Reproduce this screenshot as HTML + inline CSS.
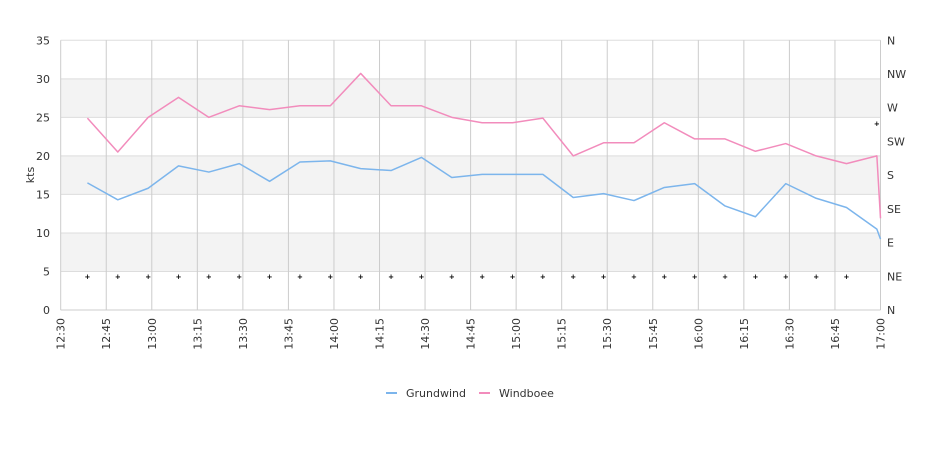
<!DOCTYPE html>
<html><head><meta charset="utf-8"><style>
body{margin:0;background:#fff;width:940px;height:450px;overflow:hidden}
svg{font-family:"DejaVu Sans","Liberation Sans",sans-serif}
</style></head><body>
<svg id="chart" width="940" height="450"></svg>
<script>
const xTicks=["12:30","12:45","13:00","13:15","13:30","13:45","14:00","14:15","14:30","14:45","15:00","15:15","15:30","15:45","16:00","16:15","16:30","16:45","17:00"];
const yTicks=[0,5,10,15,20,25,30,35];
const dirLabels=["N","NE","E","SE","S","SW","W","NW","N"];
const times=[8.8,18.8,28.8,38.8,48.8,58.8,68.8,78.8,88.8,98.8,108.8,118.8,128.8,138.8,148.8,158.8,168.8,178.8,188.8,198.8,208.8,218.8,228.8,238.8,248.8,258.8,268.8,270];
const grundwind=[16.5,14.3,15.8,18.7,17.9,19.0,16.7,19.2,19.35,18.35,18.1,19.8,17.2,17.6,17.6,17.6,14.6,15.1,14.2,15.9,16.4,13.5,12.1,16.4,14.5,13.3,10.5,9.2];
const windboee=[24.9,20.5,25.0,27.6,25.0,26.5,26.0,26.5,26.5,30.7,26.5,26.5,25.0,24.3,24.3,24.9,20.0,21.7,21.7,24.3,22.2,22.2,20.6,21.6,20.0,19.0,20.0,11.9];
const dirTimes=[8.8,18.8,28.8,38.8,48.8,58.8,68.8,78.8,88.8,98.8,108.8,118.8,128.8,138.8,148.8,158.8,168.8,178.8,188.8,198.8,208.8,218.8,228.8,238.8,248.8,258.8,268.8];
const directions=[45,45,45,45,45,45,45,45,45,45,45,45,45,45,45,45,45,45,45,45,45,45,45,45,45,45,249];

const L=60.7,R=880.5,T=40.3,B=310;
const x=m=>L+(R-L)*m/270;
const y=v=>B-(B-T)*v/35;
const yd=d=>y(d/360*35);
const svg=document.getElementById('chart');
const NS='http://www.w3.org/2000/svg';
function mk(tag,attrs,parent){const e=document.createElementNS(NS,tag);for(const k in attrs)e.setAttribute(k,attrs[k]);(parent||svg).appendChild(e);return e;}

// bands
[5,15,25].forEach(v=>{
  const r=mk('rect',{x:L,y:y(v+5),width:R-L,height:y(v)-y(v+5),fill:'#f3f3f3'});
  
  
});
// horizontal grid + left labels
yTicks.forEach(v=>{
  const l=mk('line',{x1:L,x2:R,y1:y(v),y2:y(v),stroke:'#dddddd','stroke-width':1});
  
  
  const t=mk('text',{x:50,y:y(v)+4,'text-anchor':'end','font-size':11,fill:'#333'});
  t.textContent=v;
  
  
});
// right direction labels
dirLabels.forEach((d,i)=>{
  const t=mk('text',{x:887,y:y(i*35/8)+4,'font-size':11,fill:'#333'});
  t.textContent=d;
  
  
});
// vertical grid + x labels
xTicks.forEach((s,i)=>{
  const xx=x(i*15);
  if(i>0){const l=mk('line',{x1:xx,x2:xx,y1:T,y2:B,stroke:'#cccccc','stroke-width':1});
  
  }
  const t=mk('text',{x:0,y:0,'text-anchor':'end','font-size':11,fill:'#333',transform:`translate(${xx+4},318) rotate(-90)`});
  t.textContent=s;
  
  
});
// axis lines
const al=mk('line',{x1:L,x2:L,y1:T,y2:B,stroke:'#cccccc'});


const bl=mk('line',{x1:L,x2:R,y1:B,y2:B,stroke:'#cccccc'});


// y title
const yt=mk('text',{x:0,y:0,'text-anchor':'middle','font-size':11,fill:'#333',transform:'translate(34,175) rotate(-90)'});
yt.textContent='kts';


// series
function line(vals,color,name){
  const p=mk('polyline',{points:vals.map((v,i)=>x(times[i])+','+y(v)).join(' '),fill:'none',stroke:color,'stroke-width':1.5,'stroke-linejoin':'round'});
  
  
}
line(windboee,'#f28cbc','windboee-line');
line(grundwind,'#7cb5ec','grundwind-line');
// direction markers
directions.forEach((d,i)=>{
  const m=mk('text',{x:x(dirTimes[i]),y:yd(d)+2.5,'text-anchor':'middle','font-size':7,'font-weight':'bold',fill:'#000'});
  m.textContent='+';
  
  
});
// legend
const lg=mk('g',{});


[['Grundwind','#7cb5ec',386],['Windboee','#f28cbc',479]].forEach(([n,c,lx])=>{
  const g=mk('g',{},lg);
  
  
  mk('line',{x1:lx,x2:lx+11,y1:393,y2:393,stroke:c,'stroke-width':2},g);
  const t=mk('text',{x:lx+20,y:397,'font-size':11,fill:'#333'},g);
  t.textContent=n;
});
</script>
</body></html>
